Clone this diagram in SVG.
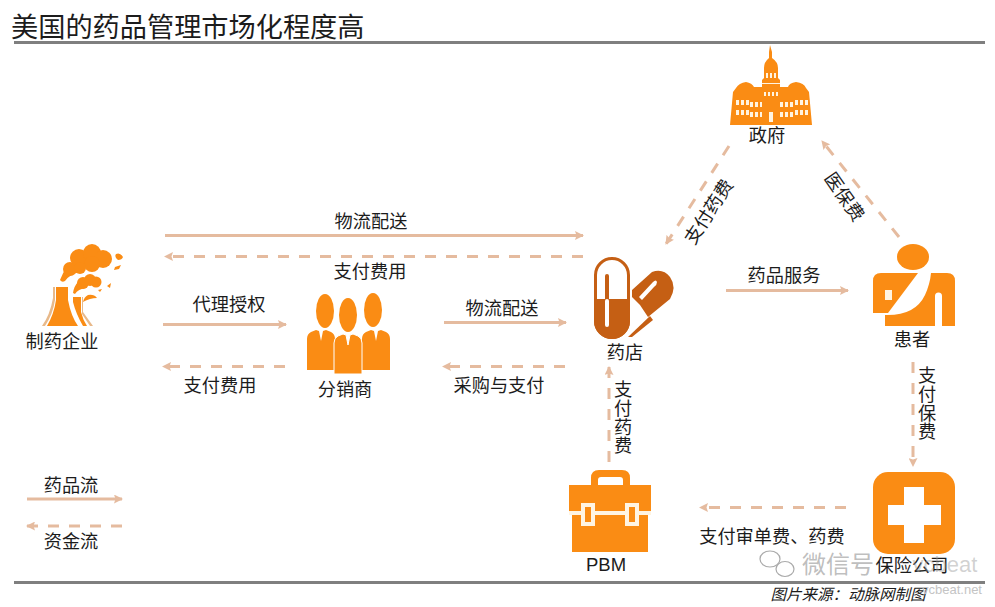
<svg xmlns="http://www.w3.org/2000/svg" width="995" height="607" viewBox="0 0 995 607">
<style>
text{font-family:"Noto Sans CJK SC","Liberation Sans",sans-serif;fill:#1c1c1c;font-size:18.200px;text-anchor:middle}
.v{writing-mode:vertical-rl;text-anchor:start;letter-spacing:.6px}
.s{fill:none;stroke:#e5bb9f;stroke-width:3}
.d{fill:none;stroke:#e5bb9f;stroke-width:3;stroke-dasharray:11 10}
.o{fill:#fa8c14}
.b{fill:#c55f14}
.w{fill:#fff4e2}
</style>
<defs>
<marker id="a" viewBox="0 0 9 9" refX="8" refY="4.500" markerWidth="9" markerHeight="9" markerUnits="userSpaceOnUse" orient="auto"><path d="M0 0L9 4.500L0 9L1.500 4.500Z" fill="#e5bb9f"/></marker>
<g id="man"><path d="M-5-1L-2 0L0 10L2 0L5-1L10 1Q14 3 14 8V39H-14V8Q-14 3-10 1Z"/></g>
</defs>
<rect width="995" height="607" fill="#fff"/>
<text x="11" y="37" style="font-size:27.200px;text-anchor:start">美国的药品管理市场化程度高</text>
<rect x="14" y="41" width="971" height="3" fill="#7f7f7f"/>
<rect x="14" y="581" width="971" height="3" fill="#7f7f7f"/>
<g id="connectors">
<path class="s" marker-end="url(#a)" d="M165 235.500H583"/>
<path class="d" marker-end="url(#a)" d="M583 256.500H165"/>
<path class="s" marker-end="url(#a)" d="M163 324.500H286"/>
<path class="d" marker-end="url(#a)" d="M285 366.500H163"/>
<path class="s" marker-end="url(#a)" d="M444 322.500H566"/>
<path class="d" marker-end="url(#a)" d="M565 366.500H443"/>
<path class="d" marker-end="url(#a)" d="M609 462V367"/>
<path class="d" marker-end="url(#a)" d="M729 146L666 244"/>
<path class="d" marker-end="url(#a)" d="M899 237L822 141"/>
<path class="s" marker-end="url(#a)" d="M726 290.500H848"/>
<path class="d" marker-end="url(#a)" d="M913 362V466"/>
<path class="d" marker-end="url(#a)" d="M846 507.500H700"/>
<path class="s" marker-end="url(#a)" d="M27 499H122"/>
<path class="d" marker-end="url(#a)" d="M122 526H27"/>
</g>
<g id="factory">
<g class="o"><circle cx="70" cy="269" r="7"/><circle cx="79" cy="258" r="9"/><circle cx="92" cy="253" r="9"/><circle cx="103" cy="259" r="9"/><circle cx="92" cy="264" r="8"/><circle cx="80" cy="268" r="6"/></g>
<path class="o" d="M60 280Q63 272 68 266L80 272Q70 274 65 281Q62 283 60 280Z"/>
<path class="o" d="M116 254q4-2 7 3q-1 3-5 3q-4-3-2-6ZM115 267l6-2l-2 4l-5 1ZM107 286l4-3l-1 5ZM98 290l4-1l-2 3Z"/>
<g class="o"><circle cx="83" cy="283" r="6"/><circle cx="90" cy="280" r="6"/><circle cx="96" cy="282" r="5.500"/></g>
<path class="o" d="M73 293Q74 286 78 282L86 288Q78 289 75 294Z"/>
<path class="o" d="M83 302Q84 297 88 295Q94 294 97 298Q90 298 83 302Z"/>
<path class="o" d="M56 287H68V300Q71 316 78 326H47Q54 314 56 300Z"/>
<path class="o" d="M73 297H81V312Q83 320 87 326H83Q76 314 73 302Z"/>
<path fill="#e8b98a" d="M42 326Q50 315 53 298V287H55V300Q53 314 45 326ZM82 297H83V312L93 326H90L82 314Z"/>
<text x="62" y="348">制药企业</text>
</g>
<g id="distributor">
<ellipse class="o" cx="325" cy="311" rx="9" ry="17"/><ellipse class="o" cx="373" cy="310" rx="9" ry="17"/>
<use href="#man" x="321" y="331" class="o"/><use href="#man" x="376" y="331" class="o"/>
<ellipse class="o" cx="348" cy="315" rx="9" ry="17"/>
<use href="#man" x="348" y="335" class="o" stroke="#fff" stroke-width="1"/>
<text x="345" y="396">分销商</text>
</g>
<g id="pharmacy">
<rect x="595.500" y="258.500" width="33" height="79" rx="16.500" fill="#fff" stroke="#c55f14" stroke-width="3"/>
<path class="b" d="M594 299H630V321A18 18 0 0 1 594 321Z"/>
<rect x="605" y="274" width="4" height="53" rx="2" class="b"/>
<rect x="605" y="299" width="4" height="28" rx="2" fill="#fff"/>
<path class="b" d="M632 290L652 272Q663 268 670 277Q677 287 670 299L648 317L640 305L632 297Z"/>
<path fill="#fff" d="M639 297L653 282Q656 279 657 282Q657 285 654 287L642 300Z"/>
<path class="b" d="M628 337L650 316L653 320L632 337Z"/>
<text x="625" y="359">药店</text>
</g>
<g id="government">
<path class="o" d="M770 45L772 52V58Q778 62 778 68V78L780 80V87H788Q789 83 796 82Q804 83 806 88L809 92L812 125H730L733 92L736 88Q739 83 746 82Q752 83 754 87H762V80L764 78V68Q764 62 769 58V52Z"/>
<g class="w">
<rect x="769" y="112" width="4" height="10"/>
<rect x="736" y="100" width="3" height="5"/><rect x="741" y="100" width="3" height="5"/><rect x="746" y="100" width="3" height="5"/><rect x="750" y="102" width="3" height="5"/><rect x="755" y="102" width="3" height="5"/><rect x="760" y="102" width="2" height="5"/>
<rect x="780" y="102" width="3" height="5"/><rect x="785" y="102" width="3" height="5"/><rect x="790" y="102" width="3" height="5"/><rect x="795" y="100" width="3" height="5"/><rect x="800" y="100" width="3" height="5"/><rect x="805" y="100" width="3" height="5"/>
<rect x="736" y="110" width="3" height="5"/><rect x="741" y="110" width="3" height="5"/><rect x="746" y="110" width="3" height="5"/><rect x="750" y="112" width="3" height="5"/><rect x="755" y="112" width="3" height="5"/><rect x="760" y="112" width="2" height="5"/>
<rect x="780" y="112" width="3" height="5"/><rect x="785" y="112" width="3" height="5"/><rect x="790" y="112" width="3" height="5"/><rect x="795" y="110" width="3" height="5"/><rect x="800" y="110" width="3" height="5"/><rect x="805" y="110" width="3" height="5"/>
<rect x="764" y="92" width="2" height="4"/><rect x="768" y="92" width="2" height="4"/><rect x="772" y="92" width="2" height="4"/><rect x="776" y="92" width="2" height="4"/>
<rect x="766" y="73" width="2" height="5"/><rect x="770" y="73" width="2" height="5"/><rect x="774" y="73" width="2" height="5"/>
<rect x="762" y="83" width="18" height="1"/>
</g>
<text x="767" y="142">政府</text>
</g>
<g id="patient">
<ellipse class="o" cx="913" cy="257" rx="16" ry="13"/>
<path class="o" d="M881 273H918L888 313H873V281Q873 273 881 273Z"/>
<path class="o" d="M885 326V315Q915 316 925 295Q930 284 931 273H947Q955 273 955 281V326H942V296A3.500 3.500 0 0 0 935 296V326Z"/>
<rect x="885" y="290" width="7" height="10" class="w"/>
<text x="912" y="346">患者</text>
</g>
<g id="pbm">
<path class="o" d="M591 486V478Q591 470 599 470H622Q630 470 630 478V486H623V480Q623 477 620 477H601Q598 477 598 480V486Z"/>
<rect class="o" x="569" y="485" width="82" height="26"/>
<rect class="o" x="572" y="515" width="76" height="37"/>
<path class="w" d="M569 511H581V503H595V511H625V503H639V511H651V515H639V526H625V515H595V526H581V515H569Z"/>
<rect class="o" x="585" y="507" width="6" height="15"/>
<rect class="o" x="629" y="507" width="6" height="15"/>
<text x="606" y="571" style="font-family:'Liberation Sans','Noto Sans',sans-serif;font-size:18.500px">PBM</text>
</g>
<g id="insurance">
<rect class="o" x="873" y="472" width="82" height="82" rx="15"/>
<path fill="#fff" d="M904 487H924V505H941V525H924V543H904V525H888V505H904Z"/>
<text x="912" y="572">保险公司</text>
</g>
<g id="labels">
<text x="371" y="228">物流配送</text>
<text x="370" y="278">支付费用</text>
<text x="229" y="311">代理授权</text>
<text x="220" y="392">支付费用</text>
<text x="502" y="315">物流配送</text>
<text x="499" y="392">采购与支付</text>
<text x="784" y="282">药品服务</text>
<text x="772" y="543">支付审单费、药费</text>
<text x="71" y="492">药品流</text>
<text x="71" y="548">资金流</text>
<text transform="translate(709 212) rotate(-57)" y="6">支付药费</text>
<text transform="translate(844 197) rotate(55)" y="6">医保费</text>
<text class="v" x="623" y="380">支付药费</text>
<text class="v" x="927" y="366">支付保费</text>
<text x="848" y="600" style="font-size:15.500px;font-style:italic">图片来源：动脉网制图</text>
</g>
<g id="watermark">
<text x="838" y="573" style="font-size:24px;fill:#9a9a9a;fill-opacity:.65">微信号</text>
<text x="945" y="572" style="font-size:22px;fill:#9a9a9a;fill-opacity:.45;font-family:'Liberation Sans',sans-serif">vcbeat</text>
<text x="952" y="594" style="font-size:13px;fill:#c4c4c4;font-family:'Liberation Sans',sans-serif">vcbeat.net</text>
<g fill="none" stroke="#aaa" stroke-width="1.200"><ellipse cx="770" cy="559" rx="10" ry="8"/><ellipse cx="785" cy="569" rx="9" ry="7.500"/></g>
</g>
</svg>
